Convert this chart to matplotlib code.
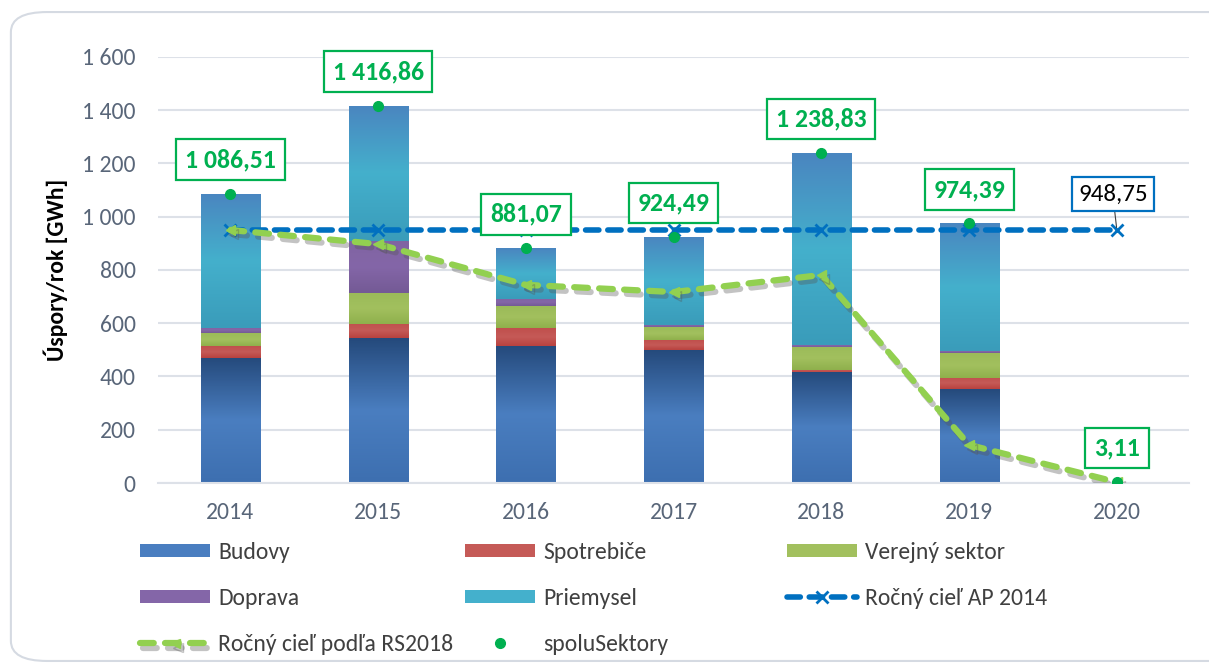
import matplotlib.pyplot as plt
import matplotlib.patheffects as pe
import numpy as np
from matplotlib.colors import LinearSegmentedColormap
from matplotlib.patches import FancyBboxPatch

plt.rcParams["font.family"] = ["Carlito", "Open Sans", "DejaVu Sans"]

years = ["2014", "2015", "2016", "2017", "2018", "2019", "2020"]
totals = [1086.51, 1416.86, 881.07, 924.49, 1238.83, 974.39, 3.11]
total_labels = ["1 086,51", "1 416,86", "881,07", "924,49", "1 238,83", "974,39", "3,11"]
budovy = [470, 543, 516, 501, 418, 352, 0]
spotrebice = [44, 53, 67, 37, 6, 43, 0]
verejny = [48, 116, 82, 48, 87, 92, 0]
doprava = [20, 197, 27, 6, 7, 8, 0]
priemysel = [t - b - s - v - d for t, b, s, v, d in zip(totals, budovy, spotrebice, verejny, doprava)]
priemysel[-1] = 0
ap2014 = [948.75] * 7
rs2018 = [950, 897, 744, 717, 781, 143, 3.11]

# (top, middle, bottom) colours for the gradient fills
seg_colors = {
    "Budovy": ("#254a7c", "#4a7ec0", "#3d6fb0"),
    "Spotrebiče": ("#c0504d", "#c55a57", "#b8423f"),
    "Verejný sektor": ("#9bbb59", "#a2c05e", "#8fb04c"),
    "Doprava": ("#8064a2", "#8466a8", "#745a95"),
    "Priemysel": ("#4a86c0", "#44b0cc", "#3a9cba"),
}
segments = [("Budovy", budovy), ("Spotrebiče", spotrebice), ("Verejný sektor", verejny),
            ("Doprava", doprava), ("Priemysel", priemysel)]

fig = plt.figure(figsize=(12.09, 6.69), dpi=100)
fig.patches.append(FancyBboxPatch((0.009, 0.012), 1.2, 0.97, boxstyle="round,pad=0,rounding_size=0.03",
                                  transform=fig.transFigure, facecolor="white",
                                  edgecolor="#d5dae2", linewidth=1.5, zorder=-1))
ax = fig.add_axes([0.1307, 0.278, 0.853, 0.637])
ax.set_facecolor("none")

x = np.arange(len(years))
width = 0.4
bottom = np.zeros(len(years))
handles = {}
for name, vals in segments:
    vals = np.array(vals, dtype=float)
    bars = ax.bar(x, vals, width, bottom=bottom, color=seg_colors[name][1],
                  edgecolor="none", zorder=2, label=name)
    cmap = LinearSegmentedColormap.from_list(name, seg_colors[name][::-1])
    grad = np.linspace(0, 1, 100).reshape(-1, 1)
    for b in bars:
        if b.get_height() <= 0:
            continue
        x0, y0 = b.get_x(), b.get_y()
        im = ax.imshow(grad, cmap=cmap, aspect="auto", origin="lower",
                       extent=[x0, x0 + b.get_width(), y0, y0 + b.get_height()], zorder=2.5)
        im.set_clip_path(b)
    handles[name] = bars
    bottom += vals

# AP 2014 target
(ap_line,) = ax.plot(x, ap2014, color="#0070c0", linewidth=4, dashes=(2.4, 1.6),
                     dash_capstyle="round", marker="x", markersize=9, markeredgewidth=2,
                     zorder=4, label="Ročný cieľ AP 2014")
# RS2018 target
(rs_line,) = ax.plot(x, rs2018, color="#92d050", linewidth=4.5, dashes=(2.2, 1.8),
                     dash_capstyle="round", marker="<", markersize=7, zorder=5,
                     label="Ročný cieľ podľa RS2018",
                     path_effects=[pe.SimpleLineShadow(offset=(2, -3), alpha=0.35, shadow_color="#555555"),
                                   pe.Normal()])
(dots,) = ax.plot(x, totals, "o", color="#00b050", markersize=7, zorder=6, label="spoluSektory")

for xi, t, lab in zip(x, totals, total_labels):
    ax.annotate(lab, (xi, t), xytext=(0, 24.5), textcoords="offset points", ha="center", va="center",
                fontsize=18.5, fontweight="bold", color="#00b050", zorder=7,
                bbox=dict(boxstyle="square,pad=0.34", facecolor="white", edgecolor="#00b050", linewidth=1.6))
ax.annotate("948,75", (x[-1], ap2014[-1]), xytext=(-3, 26), textcoords="offset points",
            ha="center", va="center", fontsize=18, color="black", zorder=7,
            arrowprops=dict(arrowstyle="-", color="#404040", linewidth=0.8, shrinkA=0, shrinkB=2),
            bbox=dict(boxstyle="square,pad=0.25", facecolor="white", edgecolor="#0070c0", linewidth=1.6))

ax.set_ylim(0, 1600)
ax.set_xlim(-0.49, 6.49)
ax.set_yticks(range(0, 1601, 200))
ax.set_yticklabels([f"{v:,}".replace(",", " ") for v in range(0, 1601, 200)])
ax.set_xticks(x)
ax.set_xticklabels(years)
ax.tick_params(length=0, labelsize=17, labelcolor="#596679")
ax.tick_params(axis="y", pad=16)
ax.tick_params(axis="x", pad=14)
ax.grid(axis="y", color="#dde1e8", linewidth=1.5, zorder=0)
ax.set_axisbelow(True)
for s in ["top", "right", "left"]:
    ax.spines[s].set_visible(False)
ax.spines["bottom"].set_color("#dde1e8")
ax.spines["bottom"].set_linewidth(1.5)
ax.set_ylabel("Úspory/rok [GWh]", fontsize=17, fontweight="bold", labelpad=10)

# legend: one column per legend so the columns sit on an even grid
columns = [
    ([handles["Budovy"], handles["Doprava"], rs_line], ["Budovy", "Doprava", "Ročný cieľ podľa RS2018"]),
    ([handles["Spotrebiče"], handles["Priemysel"], dots], ["Spotrebiče", "Priemysel", "spoluSektory"]),
    ([handles["Verejný sektor"], ap_line], ["Verejný sektor", "Ročný cieľ AP 2014"]),
]
for (hs, ls), xpos in zip(columns, [0.1158, 0.3846, 0.651]):
    fig.legend(hs, ls, loc="upper left", bbox_to_anchor=(xpos, 0.19), frameon=False,
               fontsize=17, labelcolor="#404040", handlelength=2.96, handleheight=0.5,
               labelspacing=1.06, handletextpad=0.34, borderpad=0, borderaxespad=0)

fig.savefig("out.png", dpi=100, facecolor="white")
